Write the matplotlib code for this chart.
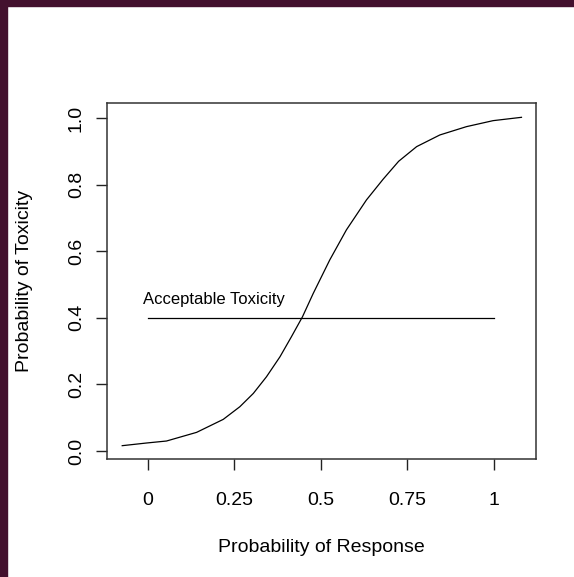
import matplotlib
matplotlib.use('Agg')
import matplotlib.pyplot as plt
from matplotlib.patches import Rectangle

plt.rcParams['font.family'] = ['Liberation Sans', 'DejaVu Sans']

# dose-response style curve
response = [-0.074, -0.004, 0.054, 0.141, 0.218, 0.266, 0.305, 0.343, 0.382, 0.415,
            0.447, 0.478, 0.526, 0.574, 0.632, 0.680, 0.725, 0.777, 0.844,
            0.921, 0.998, 1.080]
toxicity = [0.016, 0.024, 0.030, 0.056, 0.095, 0.133, 0.173, 0.223, 0.283, 0.343,
            0.403, 0.473, 0.574, 0.664, 0.754, 0.816, 0.870, 0.914, 0.949,
            0.974, 0.992, 1.002]

# acceptable toxicity threshold line
limit_x = [0, 1]
limit_y = [0.4, 0.4]
limit_label = 'Acceptable Toxicity'

xticks = [0, 0.25, 0.5, 0.75, 1]
xtick_labels = ['0', '0.25', '0.5', '0.75', '1']
yticks = [0.0, 0.2, 0.4, 0.6, 0.8, 1.0]
ytick_labels = ['0.0', '0.2', '0.4', '0.6', '0.8', '1.0']

W, H = 574, 577
fig = plt.figure(figsize=(W / 100, H / 100), dpi=100)
fig.patch.set_facecolor('white')

# dark frame on top and left edge of the screenshot
border = '#43112e'
fig.patches.append(Rectangle((0, 1 - 6 / H), 1, 6 / H, transform=fig.transFigure,
                             color=border, zorder=0))
fig.patches.append(Rectangle((0, 0), 7 / W, 1, transform=fig.transFigure,
                             color=border, zorder=0))

ax = fig.add_axes([107 / W, 1 - 459 / H, (536 - 107) / W, (459 - 103) / H])
ax.plot(response, toxicity, color='black', lw=0.9)
ax.plot(limit_x, limit_y, color='black', lw=0.9)
ax.text(0.19, 0.455, limit_label, ha='center', va='center', fontsize=12)

ax.set_xlim(-0.118, 1.122)
ax.set_ylim(-0.024, 1.045)
ax.set_xticks(xticks)
ax.set_xticklabels(xtick_labels)
ax.set_yticks(yticks)
ax.set_yticklabels(ytick_labels, rotation=90, va='center')
ax.tick_params(length=8, width=1, color='#222222', labelsize=14, pad=16)
ax.tick_params(axis='y', pad=8)
for s in ax.spines.values():
    s.set_color('#333333')
    s.set_linewidth(1.1)

ax.set_xlabel('Probability of Response', fontsize=14)
ax.set_ylabel('Probability of Toxicity', fontsize=14)
ax.xaxis.set_label_coords(0.5, -0.225)
ax.yaxis.set_label_coords(-0.172, 0.5)

fig.savefig('out.png', dpi=100)
